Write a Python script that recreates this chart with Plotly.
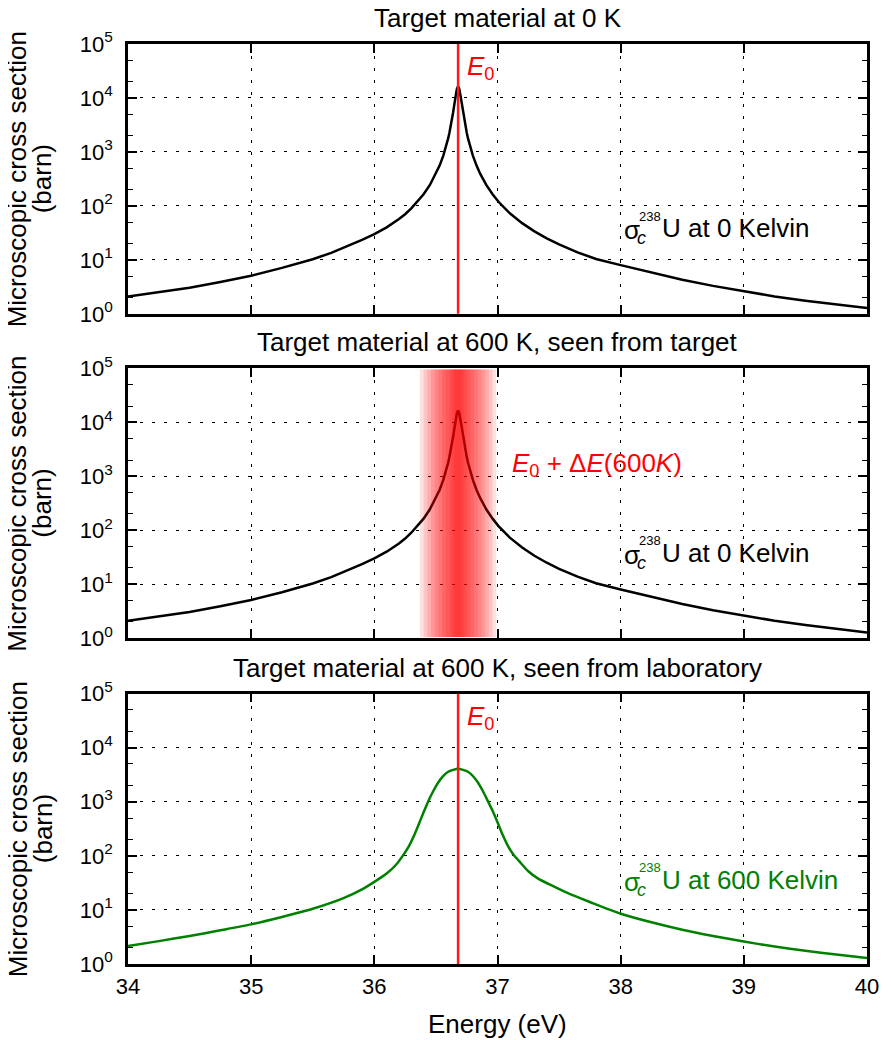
import plotly.graph_objects as go

# ---------------- data ----------------
E0 = 36.68  # resonance energy, eV

energy_0K = [34.0, 34.25, 34.5, 34.75, 35.0, 35.25, 35.5, 35.65, 35.8, 35.9, 36.0,
             36.1, 36.2, 36.25, 36.3, 36.35, 36.4, 36.45, 36.5, 36.53, 36.56,
             36.58, 36.6, 36.61, 36.62, 36.63, 36.64, 36.65, 36.66, 36.67, 36.68,
             36.69, 36.70, 36.71, 36.72, 36.73, 36.74, 36.75, 36.76, 36.78, 36.8,
             36.83, 36.86, 36.91, 36.96, 37.01, 37.06, 37.1, 37.2, 37.3, 37.4,
             37.5, 37.65, 37.8, 38.0, 38.25, 38.5, 38.75, 39.0, 39.25, 39.5,
             39.75, 40.0]
sigma_0K = [2.1, 2.5, 3.05, 3.9, 5.1, 7.1, 10.3, 13.5, 18.5, 23.5, 30,
            40, 57, 70, 90, 119, 164, 242, 392, 558, 855,
            1200, 1800, 2290, 2960, 3950, 5440, 7690, 10900, 14600, 16500,
            14600, 10900, 7690, 5440, 3950, 2960, 2290, 1800, 1200, 855,
            558, 392, 242, 164, 118, 89, 73, 48, 33.7, 25,
            19.3, 13.8, 10.4, 8.0, 5.8, 4.3, 3.3, 2.6, 2.1, 1.75,
            1.48, 1.28]

energy_600K = [34.0, 34.25, 34.5, 34.75, 35.0, 35.25, 35.5, 35.75, 35.9, 36.0,
               36.1, 36.18, 36.23, 36.28, 36.32, 36.36, 36.40, 36.44, 36.48, 36.52,
               36.56, 36.60, 36.64, 36.68, 36.72, 36.76, 36.80, 36.84, 36.88, 36.92,
               36.96, 37.00, 37.04, 37.08, 37.13, 37.18, 37.25, 37.33, 37.46, 37.58,
               37.75, 38.0, 38.25, 38.5, 38.75, 39.0, 39.25, 39.5, 39.75, 40.0]
sigma_600K = [2.15, 2.65, 3.3, 4.2, 5.4, 7.4, 10.5, 16.5, 24, 33,
              47, 70, 100, 150, 230, 380, 640, 1050, 1600, 2300,
              3000, 3600, 3900, 4100, 3900, 3600, 3000, 2300, 1600, 1050,
              680, 420, 250, 160, 105, 78, 52, 38, 27, 20,
              14, 8.5, 5.9, 4.3, 3.3, 2.6, 2.1, 1.75, 1.5, 1.29]

# Doppler shift band half-widths (eV) around E0 in the middle panel
doppler_halfwidths = [0.31, 0.28, 0.25, 0.22, 0.19, 0.16, 0.13, 0.10, 0.07, 0.05, 0.03]

x_ticks = [34, 35, 36, 37, 38, 39, 40]
y_ticks = [1, 10, 100, 1000, 10000, 100000]
y_ticktext = ["10<sup>0</sup>", "10<sup>1</sup>", "10<sup>2</sup>",
              "10<sup>3</sup>", "10<sup>4</sup>", "10<sup>5</sup>"]

panel_titles = ["Target material at 0 K",
                "Target material at 600 K, seen from target",
                "Target material at 600 K, seen from laboratory"]

# ---------------- figure ----------------
FONT = "Liberation Sans, Arial, Helvetica, sans-serif"
OFF = 8  # page body margin
W, H = 891 - OFF, 1040 - OFF
ml = 127.6 - OFF
mt = 44 - OFF
mr = W - (871.7 - OFF)
mb = H - (964.5 - OFF)
plot_h = H - mt - mb

def dom(top_px, bot_px):
    top_px -= OFF
    bot_px -= OFF
    return [(H - mb - bot_px) / plot_h, (H - mb - top_px) / plot_h]

domains = [dom(44, 314), dom(368.5, 638.5), dom(694, 964.5)]

fig = go.Figure()

fig.add_trace(go.Scatter(x=energy_0K, y=sigma_0K, mode="lines",
                         line=dict(color="black", width=2.5), xaxis="x", yaxis="y",
                         showlegend=False))
fig.add_trace(go.Scatter(x=energy_0K, y=sigma_0K, mode="lines",
                         line=dict(color="black", width=2.5), xaxis="x2", yaxis="y2",
                         showlegend=False))
fig.add_trace(go.Scatter(x=energy_600K, y=sigma_600K, mode="lines",
                         line=dict(color="#008000", width=2.5, shape="spline", smoothing=0.6),
                         xaxis="x3", yaxis="y3", showlegend=False))

grid_dash = "3px,9px"
def xaxis(i, labels):
    return dict(domain=[0, 1], anchor="y" if i == 1 else f"y{i}",
                range=[34, 40], tickvals=x_ticks, ticks="inside", ticklen=9,
                tickwidth=2, tickcolor="black", mirror="allticks", showline=True,
                linewidth=2.5, linecolor="black", showgrid=True, gridcolor="black",
                gridwidth=1, griddash=grid_dash, zeroline=False,
                showticklabels=labels, tickfont=dict(family=FONT, size=22, color="black"),
                ticklabelstandoff=1)

def yaxis(i):
    return dict(domain=domains[i - 1], anchor="x" if i == 1 else f"x{i}",
                type="log", range=[0, 5], tickvals=y_ticks, ticktext=y_ticktext,
                ticks="inside", ticklen=9, tickwidth=2, tickcolor="black",
                minor=dict(ticks="inside", ticklen=5, tickwidth=1, tickcolor="black",
                           showgrid=False),
                mirror="allticks", showline=True, linewidth=2.5, linecolor="black",
                showgrid=True, gridcolor="black", gridwidth=1, griddash=grid_dash,
                zeroline=False, tickfont=dict(family=FONT, size=22, color="black"),
                ticklabelstandoff=8)

fig.update_layout(
    width=W, height=H, autosize=False,
    margin=dict(l=ml, r=mr, t=mt, b=mb, pad=0),
    paper_bgcolor="white", plot_bgcolor="white",
    font=dict(family=FONT, size=22, color="black"),
    xaxis=xaxis(1, False), xaxis2=xaxis(2, False), xaxis3=xaxis(3, True),
    yaxis=yaxis(1), yaxis2=yaxis(2), yaxis3=yaxis(3),
)

shapes = []
# E0 lines in top and bottom panels
for xr, yr in [("x", "y"), ("x3", "y3")]:
    shapes.append(dict(type="line", xref=xr, yref=f"{yr} domain", x0=E0, x1=E0,
                       y0=0, y1=1, line=dict(color="#ff1a1a", width=2.5), layer="above"))
# Doppler band in middle panel
for hw in doppler_halfwidths:
    shapes.append(dict(type="rect", xref="x2", yref="y2 domain", x0=E0 - hw, x1=E0 + hw,
                       y0=0.004, y1=0.996, fillcolor="red", opacity=0.12,
                       line=dict(width=0), layer="above"))
fig.update_layout(shapes=shapes)

ann = []
yrefs = ["y", "y2", "y3"]
xrefs = ["x", "x2", "x3"]
for i in range(3):
    d = domains[i]
    # panel titles
    ann.append(dict(text=panel_titles[i], xref="paper", yref="paper", x=0.5, y=d[1],
                    xanchor="center", yanchor="bottom", yshift=9, showarrow=False,
                    font=dict(family=FONT, size=26, color="black")))
    # y-axis titles (two lines)
    for txt, cx in [("Microscopic cross section", 17), ("(barn)", 42)]:
        ann.append(dict(text=txt, xref="paper", yref="paper",
                        x=0, y=(d[0] + d[1]) / 2, xanchor="center", yanchor="middle",
                        xshift=(cx - OFF) - ml, textangle=-90, showarrow=False,
                        font=dict(family=FONT, size=26, color="black")))

# sigma labels (annotation y on log axes is given in log10 units)
sig_logy = [1.59, 1.58, 1.56]
sig_color = ["black", "black", "#008000"]
sig_tail = ["U at 0 Kelvin", "U at 0 Kelvin", "U at 600 Kelvin"]
for i in range(3):
    c = sig_color[i]
    base = dict(xref=xrefs[i], yref=yrefs[i], x=38.0, y=sig_logy[i], xanchor="left",
                yanchor="middle", showarrow=False)
    ann.append(dict(base, text="σ", xshift=1, yshift=-2,
                    font=dict(family=FONT, size=26, color=c)))
    ann.append(dict(base, text="<i>c</i>", xshift=14, yshift=-10,
                    font=dict(family=FONT, size=18, color=c)))
    ann.append(dict(base, text="238", xshift=16, yshift=12,
                    font=dict(family=FONT, size=13, color=c)))
    ann.append(dict(base, text=sig_tail[i], xshift=39,
                    font=dict(family=FONT, size=26, color=c)))

# E0 labels
for xr, yr in [("x", "y"), ("x3", "y3")]:
    ann.append(dict(text="<i>E</i><sub>0</sub>", xref=xr, yref=yr, x=E0, y=4.556,
                    xanchor="left", yanchor="middle", xshift=7, showarrow=False,
                    font=dict(family=FONT, size=26, color="red")))
ann.append(dict(text="<i>E</i><sub>0</sub> + Δ<i>E</i>(600<i>K</i>)", xref="x2", yref="y2",
                x=37.0, y=3.21, xanchor="left", yanchor="middle", xshift=12,
                showarrow=False, font=dict(family=FONT, size=26, color="red")))

# x-axis title
ann.append(dict(text="Energy (eV)", xref="paper", yref="paper", x=0.5, y=0,
                xanchor="center", yanchor="middle", yshift=-60, showarrow=False,
                font=dict(family=FONT, size=26, color="black")))

fig.update_layout(annotations=ann)
fig.write_html("out.html")
